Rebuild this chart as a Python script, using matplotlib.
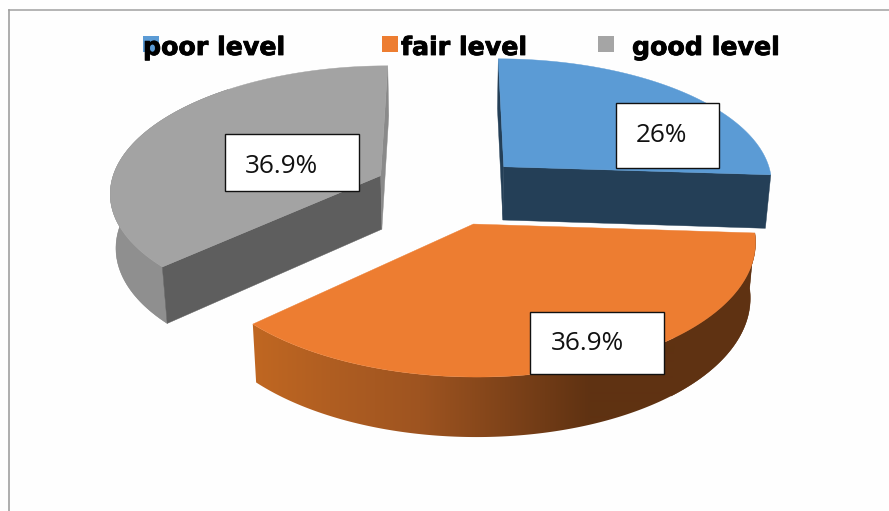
import numpy as np
import matplotlib
matplotlib.use("Agg")
import matplotlib.pyplot as plt
import matplotlib.patheffects as pe
from matplotlib.patches import Rectangle, Polygon

categories = ["poor level", "fair level", "good level"]
values = [26.0, 36.9, 36.9]
value_labels = ["26%", "36.9%", "36.9%"]
top_colors = ["#5B9BD5", "#ED7D31", "#A3A3A3"]
face_colors = ["#243F57", "#5F3212", "#5E5E5E"]
sliver_colors = ["#243F57", "#5F3212", "#8A8A8A"]
legend_colors = ["#5B9BD5", "#ED7D31", "#A5A5A5"]

# view of the tilted pie, in pixels of the 889x511 picture
CX, CY = 451, 191
SCALE_X, SCALE_Y = 271, 126
PERSP = 0.12
EXPLODE = 0.27
BOTTOM_SHRINK = 0.983
slice_shift = [(0.5, -1.5), (-3, 0), (-4, -2)]

# label boxes: x, y, w, h, text x, text baseline
label_boxes = [
    (616, 103, 103, 65, 636, 142),
    (530, 312, 134, 62, 551, 350),
    (225, 134, 134, 57, 245, 173),
]
# legend: square x, text x
legend_pos = [(143, 143), (382, 401), (598, 632)]

# side shading, left to right in picture x
orange_x = [253, 330, 420, 510, 590]
orange_rgb = [(192, 103, 33), (176, 94, 34), (158, 84, 32), (125, 66, 25), (95, 50, 18)]
gray_x = [105, 130, 170]
gray_rgb = [(136, 136, 136), (143, 143, 143), (156, 156, 156)]


def project(X, Y, bottom=False):
    w = 1 + PERSP * Y
    x = X / w
    y = CY - SCALE_Y * Y / w
    if bottom:
        return CX + BOTTOM_SHRINK * SCALE_X * x, y + 20 + 34 / w
    return CX + SCALE_X * x, y


def draw_rim(ax, xt, yt, xb, yb, stops, rgb):
    # smooth gradient clipped to the outer wall
    outline = list(zip(xt, yt)) + list(zip(xb[::-1], yb[::-1]))
    cols = np.array(rgb, dtype=float)
    # plain patch under the gradient so the wall has a clean outer edge
    mean_col = tuple(cols[len(cols) // 2] / 255)
    if stops[0] > 200:
        mean_col = tuple(cols[-1] / 255)
        base = list(zip(xt[:70], yt[:70])) + list(zip(xb[:70][::-1], yb[:70][::-1]))
    else:
        base = outline
    ax.add_patch(Polygon(base, closed=True, fc=mean_col, ec=mean_col, lw=0.3))
    clip = Polygon(outline, closed=True, fc="none", ec="none", transform=ax.transData)
    ax.add_patch(clip)
    x0, x1 = min(stops) - 10, 889
    xs = np.arange(x0, x1)
    grad = np.stack([np.interp(xs, stops, cols[:, k]) for k in range(3)], axis=-1) / 255
    im = ax.imshow(grad[np.newaxis, :, :], extent=(x0, x1, 511, 0), aspect="auto", interpolation="bilinear")
    im.set_clip_path(clip)
    ax.set_xlim(0, 889)
    ax.set_ylim(511, 0)


fig = plt.figure(figsize=(8.89, 5.11), dpi=100, facecolor="#FEFEFE")
ax = fig.add_axes([0, 0, 1, 1])
ax.set_xlim(0, 889)
ax.set_ylim(511, 0)
ax.axis("off")

ax.plot([8.5, 889], [10.5, 10.5], color="#A8A8A8", lw=1.2)
ax.plot([8.5, 8.5], [10.5, 511], color="#A0A0A0", lw=1.2)

fractions = np.array(values) / sum(values)
edges = np.concatenate([[0], np.cumsum(fractions)]) * 2 * np.pi

for i in [2, 0, 1]:
    t0, t1 = edges[i], edges[i + 1]
    mid = (t0 + t1) / 2
    ox, oy = EXPLODE * np.sin(mid), EXPLODE * np.cos(mid)
    t = np.linspace(t0, t1, 200)
    rx, ry = ox + np.sin(t), oy + np.cos(t)
    dx, dy = slice_shift[i]
    xt, yt = project(rx, ry)
    xb, yb = project(rx, ry, bottom=True)
    xt, yt, xb, yb = xt + dx, yt + dy, xb + dx, yb + dy
    ax_t, ay_t = project(ox, oy)
    ax_b, ay_b = project(ox, oy, bottom=True)
    ax_t, ay_t, ax_b, ay_b = ax_t + dx, ay_t + dy, ax_b + dx, ay_b + dy

    if i == 1:
        draw_rim(ax, xt, yt, xb, yb, orange_x, orange_rgb)
    elif i == 2:
        keep = t < np.radians(320)
        draw_rim(ax, xt[keep], yt[keep], xb[keep], yb[keep], gray_x, gray_rgb)

    # the two cut faces, orange has its cuts hidden
    if i != 1:
        face_a = [(ax_t, ay_t), (xt[0], yt[0]), (xb[0], yb[0]), (ax_b, ay_b)]
        face_b = [(ax_t, ay_t), (xt[-1], yt[-1]), (xb[-1], yb[-1]), (ax_b, ay_b)]
        if i == 2:
            ax.add_patch(Polygon(face_a, closed=True, fc=face_colors[i], ec=face_colors[i], lw=0.3))
            ax.add_patch(Polygon(face_b, closed=True, fc=sliver_colors[i], ec=sliver_colors[i], lw=0.3))
        else:
            ax.add_patch(Polygon(face_b, closed=True, fc=face_colors[i], ec=face_colors[i], lw=0.3))
            ax.add_patch(Polygon(face_a, closed=True, fc=sliver_colors[i], ec=sliver_colors[i], lw=0.3))

    top = [(ax_t, ay_t)] + list(zip(xt, yt))
    ax.add_patch(Polygon(top, closed=True, fc=top_colors[i], ec=top_colors[i], lw=0.3, zorder=3))

for (bx, by, bw, bh, tx, ty), lab in zip(label_boxes, value_labels):
    ax.add_patch(Rectangle((bx, by), bw, bh, fc="white", ec="#111111", lw=1.0, zorder=5))
    ax.text(tx, ty, lab, fontsize=18.8, family="Open Sans", color="#111111", ha="left", va="baseline", zorder=6)

for (sx, tx), name, col in zip(legend_pos, categories, legend_colors):
    ax.add_patch(Rectangle((sx, 36), 16, 16, fc=col, ec="none", zorder=5))
    ax.text(tx, 55, name, fontsize=18.2, family="DejaVu Sans", fontweight="bold", color="black",
            ha="left", va="baseline", zorder=6,
            path_effects=[pe.withStroke(linewidth=0.6, foreground="black")])

fig.savefig("out.png", dpi=100, facecolor=fig.get_facecolor())
